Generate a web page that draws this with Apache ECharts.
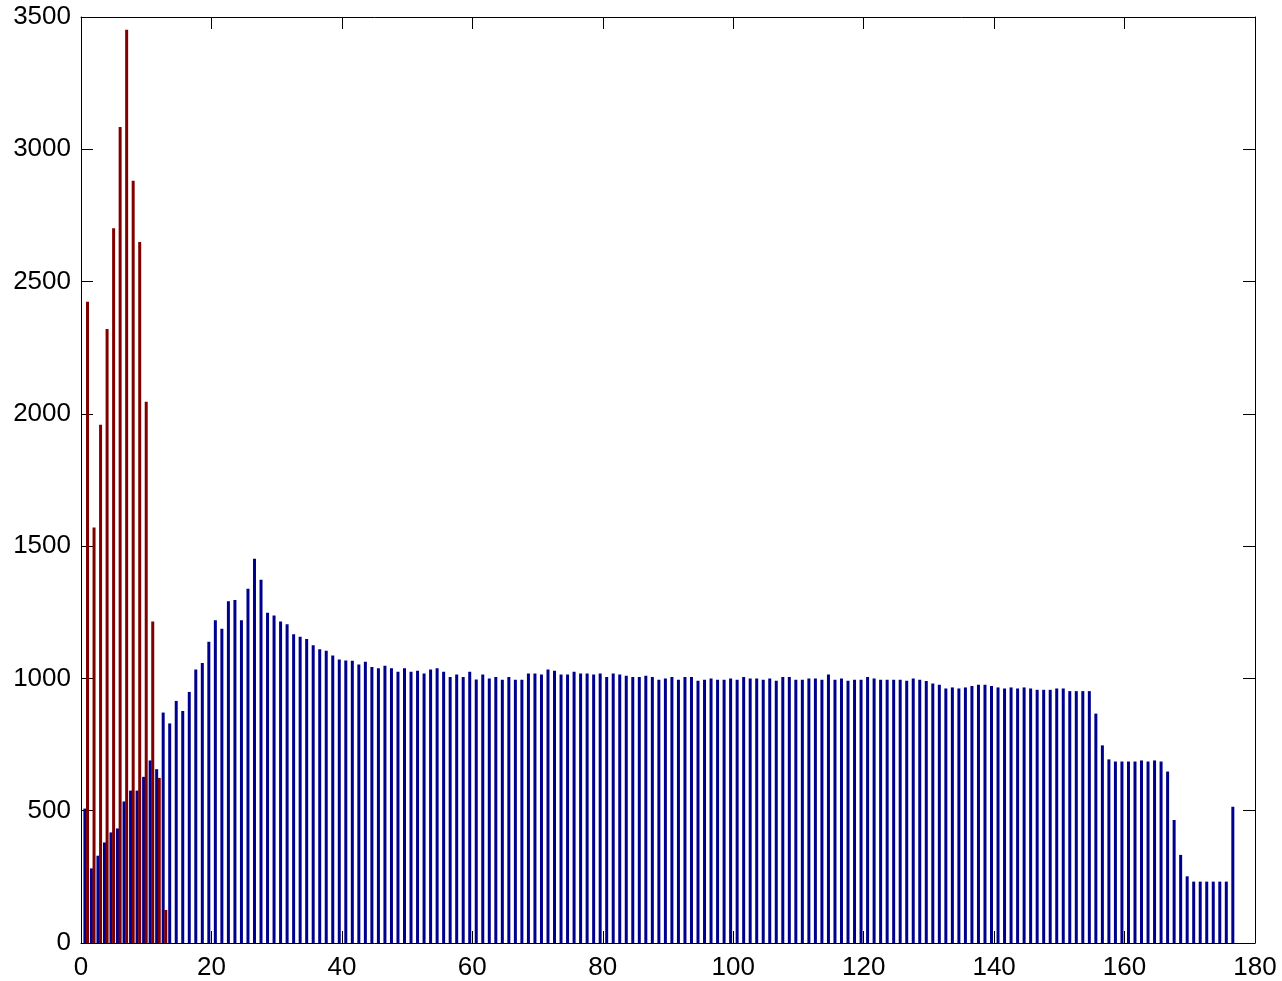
<!DOCTYPE html>
<html>
<head>
  <meta charset="utf-8">
  <script src="https://cdn.jsdelivr.net/npm/echarts@6/dist/echarts.min.js"></script>
  <style>
    html, body {margin: 0; padding: 0; background: #fff;}
  </style>
</head>
<body>
<div id="chart1" style="width: 1282px;height: 981px;"></div>

<script>
  // red histogram, bins 1..13
  const redValues = [2424, 1570, 1959, 2321, 2702, 3084, 3452, 2881, 2650, 2046, 1215, 624, 125];

  // blue histogram, bins 1..177
  const blueValues = [
    508, 282, 330, 380, 418, 433, 535, 576, 576, 628,
    690, 657, 871, 830, 915, 877, 949, 1034, 1058, 1139,
    1220, 1188, 1292, 1296, 1220, 1339, 1452, 1373, 1248, 1238,
    1215, 1205, 1167, 1158, 1149, 1125, 1110, 1105, 1087, 1072,
    1068, 1067, 1053, 1063, 1043, 1038, 1048, 1038, 1025, 1038,
    1025, 1029, 1019, 1034, 1038, 1025, 1005, 1015, 1005, 1025,
    996, 1015, 1000, 1005, 995, 1005, 995, 995, 1019, 1019,
    1015, 1034, 1029, 1015, 1015, 1025, 1019, 1019, 1015, 1019,
    1005, 1019, 1015, 1010, 1005, 1005, 1010, 1005, 995, 1000,
    1005, 995, 1005, 1005, 991, 995, 1000, 995, 995, 1000,
    995, 1005, 1000, 1000, 995, 1000, 991, 1005, 1005, 995,
    995, 1000, 1000, 995, 1015, 995, 1000, 991, 995, 995,
    1005, 1000, 995, 995, 995, 995, 991, 1000, 995, 990,
    981, 976, 962, 966, 962, 966, 971, 976, 976, 971,
    966, 962, 966, 962, 966, 962, 957, 957, 957, 962,
    962, 952, 952, 952, 952, 867, 747, 694, 686, 686,
    686, 686, 690, 686, 690, 686, 648, 465, 333, 252,
    232, 232, 232, 232, 232, 232, 515
  ];

  const xTicks = [0, 20, 40, 60, 80, 100, 120, 140, 160, 180];
  const yTicks = [0, 500, 1000, 1500, 2000, 2500, 3000, 3500];

  // bar centres: red sits on the bin number, blue a little to the left of it
  const redShift = 0;
  const blueShift = -0.4;

  const redData = redValues.map((v, i) => [i + 1 + redShift, v]);
  const blueData = blueValues.map((v, i) => [i + 1 + blueShift, v]);

  const labelStyle = {
    color: '#000',
    fontFamily: '"Liberation Sans", Arial, sans-serif',
    fontSize: 26,
    formatter: function (v) {
      return String(v);
    }
  };
  const lineStyle = {color: '#000', width: 1};

  function boxAxis(position, ticks, withLabels, margin) {
    return {
      type: 'value',
      position: position,
      min: ticks[0],
      max: ticks[ticks.length - 1],
      interval: ticks[1] - ticks[0],
      axisLine: {show: true, onZero: false, lineStyle: lineStyle},
      axisTick: {show: true, inside: true, length: 12, lineStyle: lineStyle},
      axisLabel: Object.assign({show: withLabels, margin: margin}, labelStyle),
      splitLine: {show: false}
    };
  }

  const chart1 = echarts.init(document.getElementById('chart1'));
  const option = {
    animation: false,
    backgroundColor: '#fff',
    grid: {left: 81, right: 27, top: 17, bottom: 37, containLabel: false},
    xAxis: [
      boxAxis('bottom', xTicks, true, 12),
      boxAxis('top', xTicks, false, 8)
    ],
    yAxis: [
      boxAxis('left', yTicks, true, 10),
      boxAxis('right', yTicks, false, 8)
    ],
    series: [
      {
        name: 'blue',
        type: 'bar',
        xAxisIndex: 0,
        yAxisIndex: 0,
        data: blueData,
        barWidth: 3,
        barGap: '-100%',
        itemStyle: {color: '#00008f'}
      },
      {
        name: 'red',
        type: 'bar',
        xAxisIndex: 0,
        yAxisIndex: 0,
        data: redData,
        barWidth: 3,
        barGap: '-100%',
        itemStyle: {color: '#800000'}
      }
    ]
  };
  chart1.setOption(option);
</script>
</body>
</html>
